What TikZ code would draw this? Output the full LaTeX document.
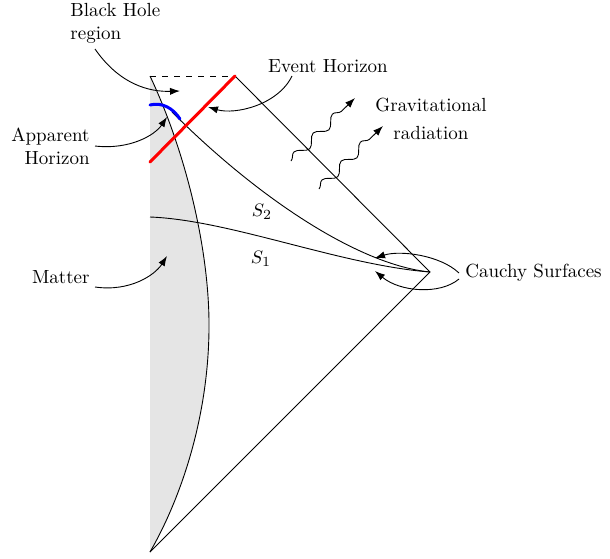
\documentclass[tikz,border=0pt]{standalone}
\usetikzlibrary{arrows.meta,decorations.pathmorphing}
\begin{document}
\begin{tikzpicture}[x=0.5pt,y=-0.5pt,
  lbl/.style={inner sep=0pt,font=\fontsize{9.5}{11.5}\selectfont},
  pointer/.style={-{Latex[length=5pt,width=3.6pt]},line width=0.45pt},
  edge/.style={line width=0.45pt},
  wave/.style={decorate,decoration={snake,segment length=13.5pt,amplitude=2.2pt,post length=3pt},-{Latex[length=5pt,width=3.6pt]},line width=0.45pt}]
\useasboundingbox (0,0) rectangle (610,558);
% vertices
\coordinate (top) at (150,76);
\coordinate (ehtop) at (235,76);
\coordinate (izero) at (430,272);
\coordinate (bot) at (150,552);
\coordinate (ehbot) at (150,162);
\coordinate (s2start) at (172,112);
\coordinate (s1start) at (150,217);
% matter region
\fill[gray!20] (top) .. controls (185,150) and (210,250) .. (209,330) .. controls (208,420) and (180,500) .. (bot) -- cycle;
\draw[edge] (top) .. controls (185,150) and (210,250) .. (209,330) .. controls (208,420) and (180,500) .. (bot);
% boundaries
\draw[edge,dashed] (top) -- (ehtop);
\draw[edge] (ehtop) -- (izero) -- (bot);
% surfaces
\draw[edge] (s2start) .. controls (260,200) and (360,265) .. (izero);
\draw[edge] (s1start) .. controls (230,220) and (340,265) .. (izero);
% horizons
\draw[red,line width=1.5pt,line cap=round] (ehbot) -- (ehtop);
\coordinate (ahA) at (150,105);
\coordinate (ahB) at (180,119);
\draw[blue,line width=1.5pt,line cap=round] (ahA) .. controls (162,102) and (173,108) .. (ahB);
% gravitational waves
\coordinate (w1a) at (291,161); \coordinate (w1b) at (355,98);
\coordinate (w2a) at (319,189); \coordinate (w2b) at (383,126);
\draw[wave] (w1a) -- (w1b);
\draw[wave] (w2a) -- (w2b);
% labels
\node[lbl,align=left,anchor=west] (bh) at (70,23) {Black Hole\\region};
\node[lbl] (eh) at (328,66) {Event Horizon};
\node[lbl,align=center] (gr) at (431,119) {Gravitational\\[2.5pt]radiation};
\node[lbl,align=right,anchor=east] (ah) at (90,146) {Apparent\\Horizon};
\node[lbl,anchor=east] (mat) at (90,277) {Matter};
\node[lbl,anchor=west] (cs) at (465,273) {Cauchy Surfaces};
\node[lbl] (s2) at (262,212) {$S_2$};
\node[lbl] (s1) at (261,259) {$S_1$};
% pointers
\coordinate (bhtip) at (180,91);
\coordinate (ehtip) at (208,107);
\coordinate (ahtip) at (167,117);
\coordinate (mattip) at (167,256);
\coordinate (cstipA) at (375,258);
\coordinate (cstipB) at (375,271);
\draw[pointer] ([xshift=12.5pt,yshift=-13pt]bh.west) .. controls (120,85) and (150,92) .. (bhtip);
\draw[pointer] ([xshift=-18pt,yshift=-5pt]eh.center) .. controls (278,105) and (235,115) .. (ehtip);
\draw[pointer] ([xshift=2.5pt]ah.east) .. controls (130,150) and (155,135) .. (ahtip);
\draw[pointer] ([xshift=2.5pt,yshift=-5pt]mat.east) .. controls (130,292) and (155,275) .. (mattip);
\draw[pointer] ([xshift=-3pt,yshift=0pt]cs.west) .. controls (440,255) and (400,250) .. (cstipA);
\draw[pointer] ([xshift=-3pt,yshift=-3pt]cs.west) .. controls (440,295) and (400,292) .. (cstipB);
\end{tikzpicture}
\end{document}
